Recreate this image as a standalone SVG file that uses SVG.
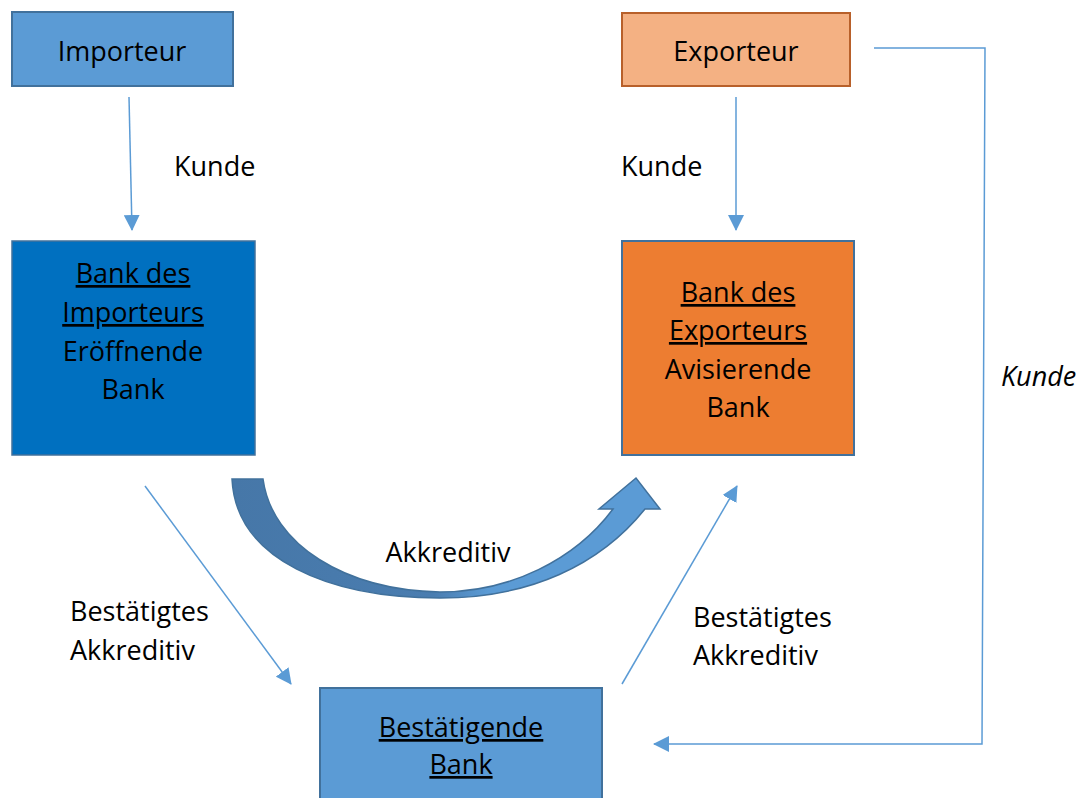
<svg xmlns="http://www.w3.org/2000/svg" width="1083" height="798" viewBox="0 0 1083 798">
<style>
text{font-family:"Open Sans","Noto Sans","DejaVu Sans",sans-serif;font-size:27px;fill:#000;text-anchor:middle}
.l{text-anchor:start}
.u{text-decoration:underline}
.conn{fill:none;stroke:#5B9BD5;stroke-width:1.5}
</style>
<defs>
<marker id="ah" markerWidth="16" markerHeight="16" viewBox="0 0 16 16" refX="15" refY="8" orient="auto" markerUnits="userSpaceOnUse">
<path d="M0,0 L16,8 L0,16 Z" fill="#5B9BD5"/>
</marker>
<linearGradient id="cg" x1="232" y1="0" x2="660" y2="0" gradientUnits="userSpaceOnUse">
<stop offset="0" stop-color="#4677A8"/>
<stop offset="0.47" stop-color="#4A7DB0"/>
<stop offset="0.6" stop-color="#5B9BD5"/>
<stop offset="1" stop-color="#5B9BD5"/>
</linearGradient>
</defs>
<rect width="1083" height="798" fill="#fff"/>

<g id="connectors">
<line class="conn" x1="129" y1="97" x2="132" y2="230" marker-end="url(#ah)"/>
<line class="conn" x1="736" y1="97" x2="736" y2="230" marker-end="url(#ah)"/>
<line class="conn" x1="145" y1="486" x2="291" y2="684" marker-end="url(#ah)"/>
<line class="conn" x1="622" y1="684" x2="737" y2="486" marker-end="url(#ah)"/>
<polyline class="conn" points="874,48 985,48 982,744 654,744" marker-end="url(#ah)"/>
<path id="akkreditiv-arrow" d="M232,479 C236,560 330,598 440,598 C530,598 600,565 645,509 L660,509 L636,478 L599,509 L613,509 C575,560 510,592 440,592 C345,590 272,545 263,479 Z" fill="url(#cg)" stroke="#41719C" stroke-width="1.5"/>
</g>

<g id="labels">
<text class="l" x="174" y="176">Kunde</text>
<text class="l" x="621" y="176">Kunde</text>
<text class="l" x="1001" y="386" font-style="italic">Kunde</text>
<text x="448" y="562">Akkreditiv</text>
<text class="l" x="70" y="621">Bestätigtes</text>
<text class="l" x="70" y="660">Akkreditiv</text>
<text class="l" x="693" y="627">Bestätigtes</text>
<text class="l" x="693" y="665">Akkreditiv</text>
</g>

<g id="importeur">
<rect x="12" y="12" width="221" height="74" fill="#5B9BD5" stroke="#41719C" stroke-width="2"/>
<text x="122" y="61">Importeur</text>
</g>

<g id="exporteur">
<rect x="622" y="13" width="228" height="73" fill="#F4B183" stroke="#B8602A" stroke-width="2"/>
<text x="736" y="61">Exporteur</text>
</g>

<g id="bank-importeur">
<rect x="12" y="241" width="243" height="214" fill="#0070C0" stroke="#41719C" stroke-width="1.5"/>
<text x="133" y="283" class="u">Bank des</text>
<text x="133" y="322" class="u">Importeurs</text>
<text x="133" y="361">Eröffnende</text>
<text x="133" y="399">Bank</text>
</g>

<g id="bank-exporteur">
<rect x="622" y="241" width="232" height="214" fill="#ED7D31" stroke="#41719C" stroke-width="2"/>
<text x="738" y="302" class="u">Bank des</text>
<text x="738" y="340" class="u">Exporteurs</text>
<text x="738" y="379">Avisierende</text>
<text x="738" y="417">Bank</text>
</g>

<g id="bestaetigende-bank">
<rect x="320" y="688" width="282" height="120" fill="#5B9BD5" stroke="#41719C" stroke-width="2"/>
<text x="461" y="737" class="u">Bestätigende</text>
<text x="461" y="774" class="u">Bank</text>
</g>
</svg>
